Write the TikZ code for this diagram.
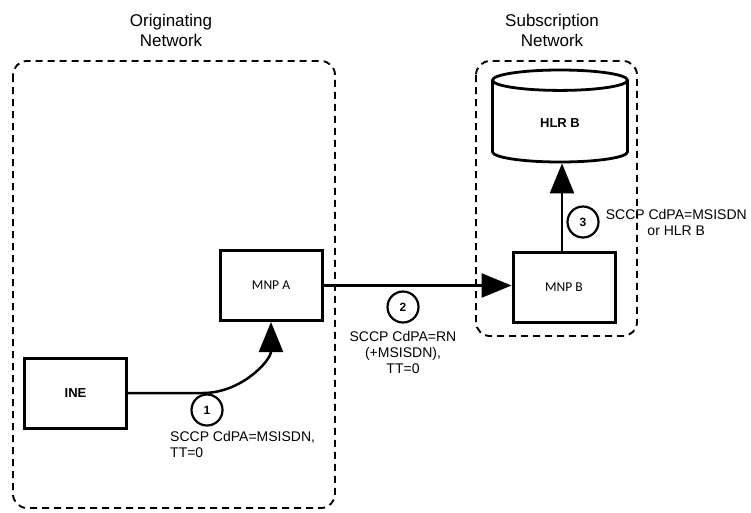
\documentclass[tikz,border=0pt]{standalone}
\usepackage{fontspec}
\setmainfont{Liberation Sans}
\newfontfamily\boxfont{Carlito}
\usepackage{tikz}
\usetikzlibrary{shapes.geometric, arrows.meta, positioning}

\begin{document}
\begin{tikzpicture}[
        x=1pt, y=-1pt,
        netbox/.style={draw, dash pattern=on 7pt off 5pt, line width=1.9pt, rounded corners=14pt},
        nettitle/.style={font=\fontsize{17}{20}\selectfont, align=center},
        unit/.style={draw, line width=3pt, minimum width=102pt, minimum height=70pt, font=\bfseries\fontsize{13}{15}\selectfont},
        stepnum/.style={draw, circle, line width=2.2pt, minimum size=31pt, inner sep=0pt, font=\bfseries\fontsize{12}{14}\selectfont},
        msg/.style={font=\fontsize{14}{16}\selectfont, align=center, inner sep=0pt},
        link/.style={line width=2.5pt, -{Triangle[length=30pt,width=24pt]}}
    ]
    \useasboundingbox (0,0) rectangle (751,512);

    % network borders
    \draw[netbox] (13,61) rectangle (335,508);
    \draw[netbox] (476,61) rectangle (637,336);
    \node[nettitle] (origtitle) at (171,30) {Originating\\Network};
    \node[nettitle] (substitle) at (552,30) {Subscription\\Network};

    \node[unit] (ine) at (75.5,393) {INE};
    \node[unit, font=\boxfont\fontsize{13.5}{15}\selectfont] (mnpa) at (271,285.5) {MNP A};
    \node[unit, font=\boxfont\fontsize{13.5}{15}\selectfont] (mnpb) at (564,287) {MNP B};
    \node[draw, line width=2.8pt, cylinder, shape border rotate=90, aspect=0.44, anchor=shape center,
          minimum width=135pt, minimum height=92pt, font=\bfseries\fontsize{13}{15}\selectfont] (hlr) at (560,116) {HLR B};

    \draw[link] (ine.east) -- (203,393) to[out=0, in=-90] (mnpa.south);
    \draw[link] (mnpa.east) -- (mnpb.west |- mnpa.east);
    \draw[link] (mnpb.north -| 562,0) -- (hlr.south -| 562,0);

    \node[stepnum] (s1) at (207,410) {1};
    \node[stepnum] (s2) at (403,307) {2};
    \node[stepnum] (s3) at (583,222) {3};

    \node[msg, align=left, anchor=north west] (m1) at (170,431) {SCCP CdPA=MSISDN,\\TT=0};
    \node[msg, below=8pt of s2] (m2) {SCCP CdPA=RN\\(+MSISDN),\\TT=0};
    \node[msg, right=6pt of s3] (m3) {SCCP CdPA=MSISDN\\or HLR B};
\end{tikzpicture}
\end{document}
